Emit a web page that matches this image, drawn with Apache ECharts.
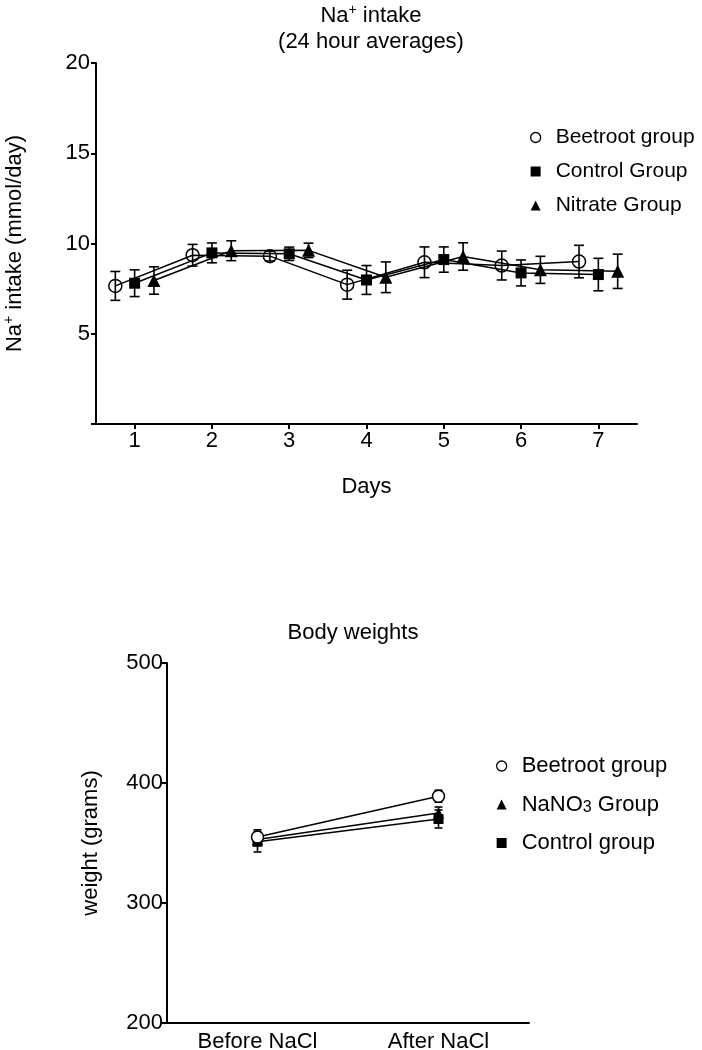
<!DOCTYPE html>
<html>
<head>
<meta charset="utf-8">
<script src="https://cdn.jsdelivr.net/npm/echarts@6/dist/echarts.min.js"></script>
<style>html,body{margin:0;padding:0;background:#fff;}#c{width:702px;height:1050px;}</style>
</head>
<body>
<div id="c"></div>
<script>
// ---- Top chart data: Na+ intake (mmol/day), mean and SEM per day ----
const days = [1, 2, 3, 4, 5, 6, 7];
const beetrootMean = [7.65, 9.35, 9.3, 7.72, 8.96, 8.78, 9.0];
const beetrootSem  = [0.8, 0.6, 0.27, 0.8, 0.85, 0.8, 0.9];
const controlMean  = [7.8, 9.48, 9.43, 7.98, 9.11, 8.37, 8.28];
const controlSem   = [0.74, 0.55, 0.37, 0.8, 0.7, 0.72, 0.9];
const nitrateMean  = [7.95, 9.6, 9.62, 8.13, 9.28, 8.54, 8.46];
const nitrateSem   = [0.76, 0.55, 0.4, 0.85, 0.76, 0.75, 0.95];
const dayOffsets = { beetroot: -0.25, control: 0, nitrate: 0.25 };

// ---- Bottom chart data: body weights (grams) ----
const stages = ['Before NaCl', 'After NaCl'];
const beetrootW = [355, 389];
const beetrootWSem = [6, 5];
const nano3W = [353, 375];
const nano3WSem = [5, 5];
const controlW = [351, 370];
const controlWSem = [8.5, 7.5];

const FONT = 'Liberation Sans, Arial, Helvetica, sans-serif';
const FS = 22;
const BLACK = '#000';

function errRender(capHalf, lw) {
  return function (params, api) {
    const x = api.value(0), lo = api.value(1), hi = api.value(2);
    const p1 = api.coord([x, hi]);
    const p2 = api.coord([x, lo]);
    const st = { stroke: BLACK, lineWidth: lw };
    return {
      type: 'group',
      children: [
        { type: 'line', shape: { x1: p1[0], y1: p1[1], x2: p2[0], y2: p2[1] }, style: st },
        { type: 'line', shape: { x1: p1[0] - capHalf, y1: p1[1], x2: p1[0] + capHalf, y2: p1[1] }, style: st },
        { type: 'line', shape: { x1: p2[0] - capHalf, y1: p2[1], x2: p2[0] + capHalf, y2: p2[1] }, style: st }
      ]
    };
  };
}

function pts(xs, means, off) { return xs.map((d, i) => [d + off, means[i]]); }
function errs(xs, means, sems, off) { return xs.map((d, i) => [d + off, means[i] - sems[i], means[i] + sems[i]]); }

const richBase = {
  n: { fontSize: FS, fontFamily: FONT, color: BLACK, lineHeight: 26 },
  sup: { fontSize: 14, fontFamily: FONT, color: BLACK, verticalAlign: 'top' },
  sub: { fontSize: 14, fontFamily: FONT, color: BLACK, verticalAlign: 'bottom' }
};

const axisLineStyle = { color: BLACK, width: 2 };
const labelStyle = { color: BLACK, fontSize: FS, fontFamily: FONT };

const option = {
  backgroundColor: '#fff',
  animation: false,
  title: [
    {
      text: '{n|Na}{sup|+}{n| intake}\n{n|(24 hour averages)}',
      left: 366, top: -2, textAlign: 'center',
      textStyle: { rich: richBase, fontSize: FS, fontWeight: 'normal' }
    },
    {
      text: 'Body weights',
      left: 348, top: 617, textAlign: 'center',
      textStyle: { fontSize: FS, fontFamily: FONT, color: BLACK, fontWeight: 'normal' }
    }
  ],
  legend: [
    {
      orient: 'vertical', left: 525, top: 122,
      itemWidth: 10, itemHeight: 10, itemGap: 13,
      textStyle: { fontSize: 21, fontFamily: FONT, color: BLACK, padding: [0, 0, 0, 10] },
      data: [
        { name: 'Beetroot group', icon: 'circle', itemStyle: { color: '#fff', borderColor: BLACK, borderWidth: 1.3 } },
        { name: 'Control Group', icon: 'rect', itemStyle: { color: BLACK } },
        { name: 'Nitrate Group', icon: 'triangle', itemStyle: { color: BLACK } }
      ]
    },
    {
      orient: 'vertical', left: 491, top: 750,
      itemWidth: 10, itemHeight: 10, itemGap: 16.5,
      formatter: function (name) {
        if (name === 'NaNO3 Group') return '{n|NaNO}{sub|3}{n| Group}';
        return '{n|' + name + '}';
      },
      textStyle: {
        fontSize: FS, fontFamily: FONT, color: BLACK, padding: [0, 0, 0, 10],
        rich: {
          n: { fontSize: FS, fontFamily: FONT, color: BLACK, lineHeight: 22 },
          sub: { fontSize: 16, fontFamily: FONT, color: BLACK, verticalAlign: 'bottom' }
        }
      },
      data: [
        { name: 'Beetroot group ', icon: 'circle', itemStyle: { color: '#fff', borderColor: BLACK, borderWidth: 1.3 } },
        { name: 'NaNO3 Group', icon: 'triangle', itemStyle: { color: BLACK } },
        { name: 'Control group', icon: 'rect', itemStyle: { color: BLACK } }
      ]
    }
  ],
  grid: [
    { left: 96, right: 65, top: 63, height: 361, outerBoundsMode: 'none' },
    { left: 167, width: 362, top: 663, height: 360, outerBoundsMode: 'none' }
  ],
  xAxis: [
    {
      gridIndex: 0, type: 'value', min: 0.5, max: 7.5,
      name: 'Days', nameLocation: 'middle', nameGap: 52,
      nameTextStyle: labelStyle,
      axisLine: { lineStyle: axisLineStyle },
      axisTick: { customValues: days, length: 5, lineStyle: axisLineStyle },
      axisLabel: Object.assign({ customValues: days, margin: 6 }, labelStyle),
      splitLine: { show: false }
    },
    {
      gridIndex: 1, type: 'category', data: stages, boundaryGap: true,
      axisLine: { lineStyle: axisLineStyle },
      axisTick: { alignWithLabel: true, length: 5, lineStyle: axisLineStyle },
      axisLabel: Object.assign({ margin: 8 }, labelStyle),
      splitLine: { show: false }
    }
  ],
  yAxis: [
    {
      gridIndex: 0, type: 'value', min: 0, max: 20, interval: 5,
      name: '{n|Na}{sup|+}{n| intake (mmol/day)}',
      nameLocation: 'middle', nameGap: 68, nameRotate: 90,
      nameTextStyle: { rich: richBase },
      axisLine: { show: true, lineStyle: axisLineStyle },
      axisTick: { show: true, length: 5, lineStyle: axisLineStyle },
      axisLabel: Object.assign({ margin: 6, formatter: v => (v === 0 ? '' : String(v)) }, labelStyle),
      splitLine: { show: false }
    },
    {
      gridIndex: 1, type: 'value', min: 200, max: 500, interval: 100,
      name: 'weight (grams)', nameLocation: 'middle', nameGap: 65, nameRotate: 90,
      nameTextStyle: labelStyle,
      axisLine: { show: true, lineStyle: axisLineStyle },
      axisTick: { show: true, length: 5, lineStyle: axisLineStyle },
      axisLabel: Object.assign({ margin: 4 }, labelStyle),
      splitLine: { show: false }
    }
  ],
  series: [
    // --- top chart ---
    {
      name: 'Beetroot group', type: 'line', xAxisIndex: 0, yAxisIndex: 0,
      data: pts(days, beetrootMean, dayOffsets.beetroot),
      symbol: 'circle', symbolSize: 13,
      lineStyle: { color: BLACK, width: 1.5 },
      itemStyle: { color: 'rgba(255,255,255,0)', borderColor: BLACK, borderWidth: 1.5 },
      z: 3
    },
    {
      name: 'Control Group', type: 'line', xAxisIndex: 0, yAxisIndex: 0,
      data: pts(days, controlMean, dayOffsets.control),
      symbol: 'rect', symbolSize: 11,
      lineStyle: { color: BLACK, width: 1.5 },
      itemStyle: { color: BLACK },
      z: 3
    },
    {
      name: 'Nitrate Group', type: 'line', xAxisIndex: 0, yAxisIndex: 0,
      data: pts(days, nitrateMean, dayOffsets.nitrate),
      symbol: 'triangle', symbolSize: 13,
      lineStyle: { color: BLACK, width: 1.5 },
      itemStyle: { color: BLACK },
      z: 3
    },
    { type: 'custom', xAxisIndex: 0, yAxisIndex: 0, renderItem: errRender(5, 1.6), data: errs(days, beetrootMean, beetrootSem, dayOffsets.beetroot), encode: { x: 0, y: [1, 2] }, z: 4, silent: true },
    { type: 'custom', xAxisIndex: 0, yAxisIndex: 0, renderItem: errRender(5, 1.6), data: errs(days, controlMean, controlSem, dayOffsets.control), encode: { x: 0, y: [1, 2] }, z: 4, silent: true },
    { type: 'custom', xAxisIndex: 0, yAxisIndex: 0, renderItem: errRender(5, 1.6), data: errs(days, nitrateMean, nitrateSem, dayOffsets.nitrate), encode: { x: 0, y: [1, 2] }, z: 4, silent: true },
    // --- bottom chart ---
    { type: 'custom', xAxisIndex: 1, yAxisIndex: 1, renderItem: errRender(4, 1.6), data: stages.map((s, i) => [i, controlW[i] - controlWSem[i], controlW[i] + controlWSem[i]]), encode: { x: 0, y: [1, 2] }, z: 1, silent: true },
    { type: 'custom', xAxisIndex: 1, yAxisIndex: 1, renderItem: errRender(4, 1.6), data: stages.map((s, i) => [i, nano3W[i] - nano3WSem[i], nano3W[i] + nano3WSem[i]]), encode: { x: 0, y: [1, 2] }, z: 1, silent: true },
    { type: 'custom', xAxisIndex: 1, yAxisIndex: 1, renderItem: errRender(4, 1.6), data: stages.map((s, i) => [i, beetrootW[i] - beetrootWSem[i], beetrootW[i] + beetrootWSem[i]]), encode: { x: 0, y: [1, 2] }, z: 1, silent: true },
    {
      name: 'Control group', type: 'line', xAxisIndex: 1, yAxisIndex: 1,
      data: controlW, symbol: 'rect', symbolSize: 10,
      lineStyle: { color: BLACK, width: 1.5 }, itemStyle: { color: BLACK }, z: 3
    },
    {
      name: 'NaNO3 Group', type: 'line', xAxisIndex: 1, yAxisIndex: 1,
      data: nano3W, symbol: 'triangle', symbolSize: 11,
      lineStyle: { color: BLACK, width: 1.5 }, itemStyle: { color: BLACK }, z: 4
    },
    {
      name: 'Beetroot group ', type: 'line', xAxisIndex: 1, yAxisIndex: 1,
      data: beetrootW, symbol: 'circle', symbolSize: 12,
      lineStyle: { color: BLACK, width: 1.5 }, itemStyle: { color: '#fff', borderColor: BLACK, borderWidth: 1.5 }, z: 5
    }
  ]
};

const chart = echarts.init(document.getElementById('c'), null, { renderer: 'canvas' });
chart.setOption(option);
</script>
</body>
</html>
